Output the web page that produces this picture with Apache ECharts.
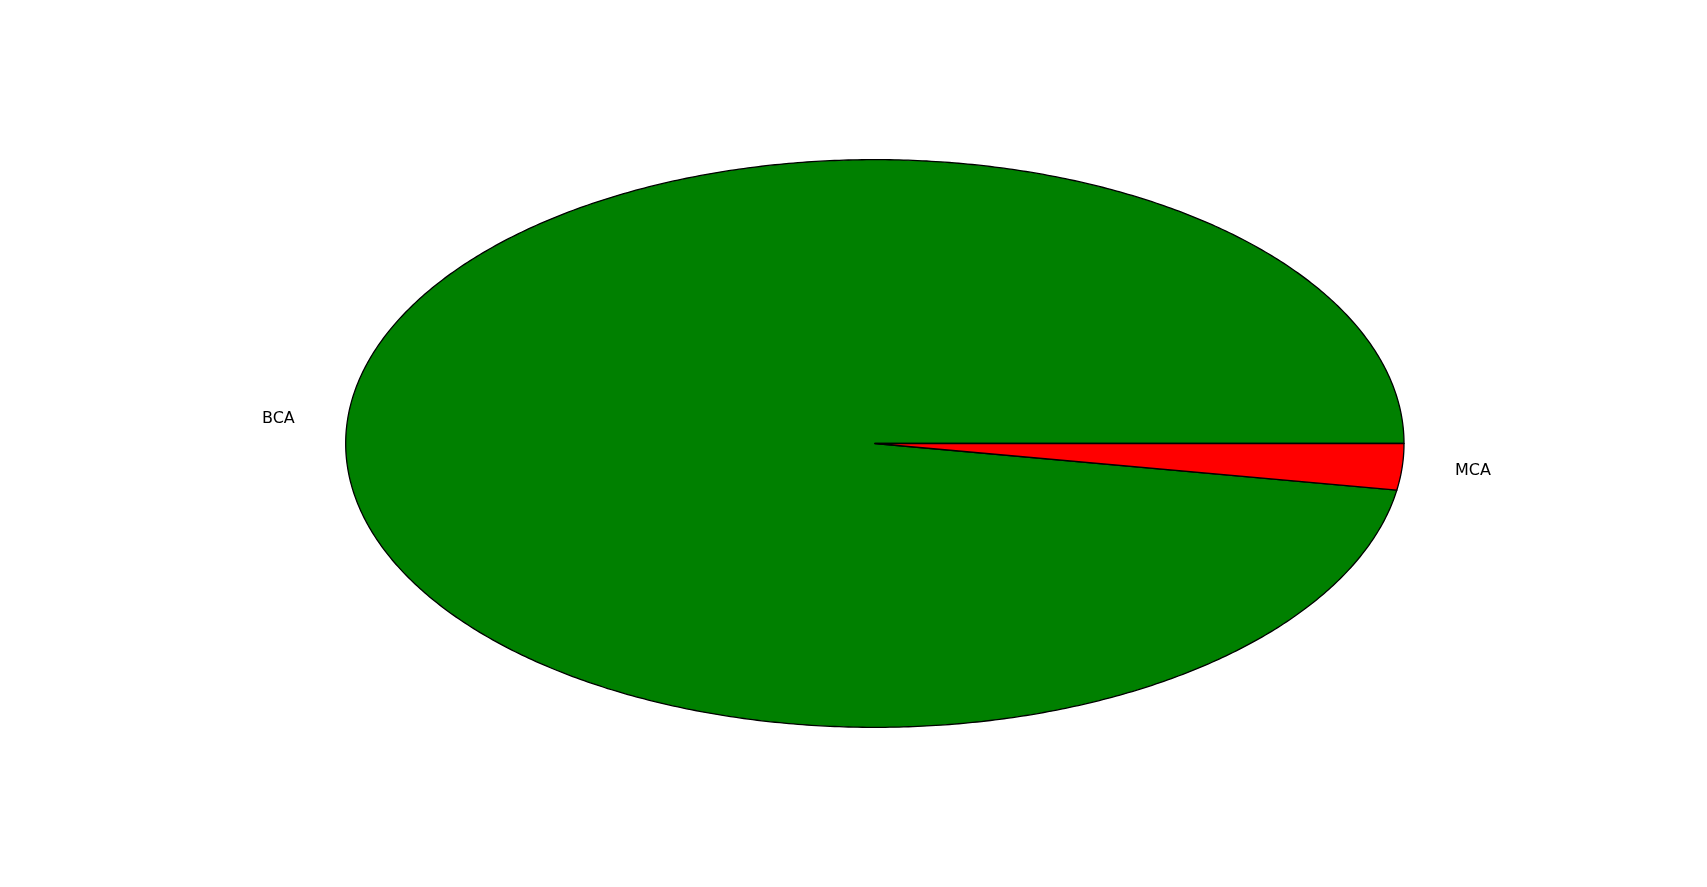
<!DOCTYPE html>
<html>
<head>
<meta charset="utf-8">
<script src="https://cdn.jsdelivr.net/npm/echarts@6/dist/echarts.min.js"></script>
<style>
html,body{margin:0;padding:0;background:#fff;}
#chart{width:1707px;height:887px;}
</style>
</head>
<body>
<div id="chart"></div>
<script>
const categories = ['BCA', 'MCA'];
const values = [37, 1];
const colors = ['#008000', '#ff0000'];

const total = values.reduce((a, b) => a + b, 0);
const starts = [];
let acc = 0;
values.forEach(v => { starts.push(acc); acc += v; });

const chart = echarts.init(document.getElementById('chart'), null, {renderer: 'canvas'});
chart.setOption({
  animation: false,
  backgroundColor: '#ffffff',
  grid: {left: 213.4, right: 170.7, top: 88.7, bottom: 88.7},
  xAxis: {type: 'value', min: -1.25, max: 1.25, show: false},
  yAxis: {type: 'value', min: -1.25, max: 1.25, show: false},
  series: [{
    type: 'custom',
    clip: false,
    data: values.map((v, i) => [i, v]),
    renderItem: function (params, api) {
      const i = params.dataIndex;
      const a0 = starts[i] / total * 2 * Math.PI;
      const a1 = (starts[i] + values[i]) / total * 2 * Math.PI;
      const n = Math.max(8, Math.ceil((a1 - a0) / (2 * Math.PI) * 720));
      const pts = [api.coord([0, 0])];
      for (let k = 0; k <= n; k++) {
        const a = a0 + (a1 - a0) * k / n;
        pts.push(api.coord([Math.cos(a), Math.sin(a)]));
      }
      const mid = (a0 + a1) / 2;
      const lx = 1.1 * Math.cos(mid), ly = 1.1 * Math.sin(mid);
      const lp = api.coord([lx, ly]);
      return {
        type: 'group',
        children: [
          {
            type: 'polygon',
            shape: {points: pts},
            style: {fill: colors[i], stroke: '#000000', lineWidth: 1.3, lineJoin: 'round'}
          },
          {
            type: 'text',
            x: lp[0], y: lp[1] + 1.5,
            style: {
              text: categories[i],
              fill: '#000000',
              font: '16px "DejaVu Sans"',
              align: lx < 0 ? 'right' : 'left',
              verticalAlign: 'middle'
            }
          }
        ]
      };
    }
  }]
});
</script>
</body>
</html>
